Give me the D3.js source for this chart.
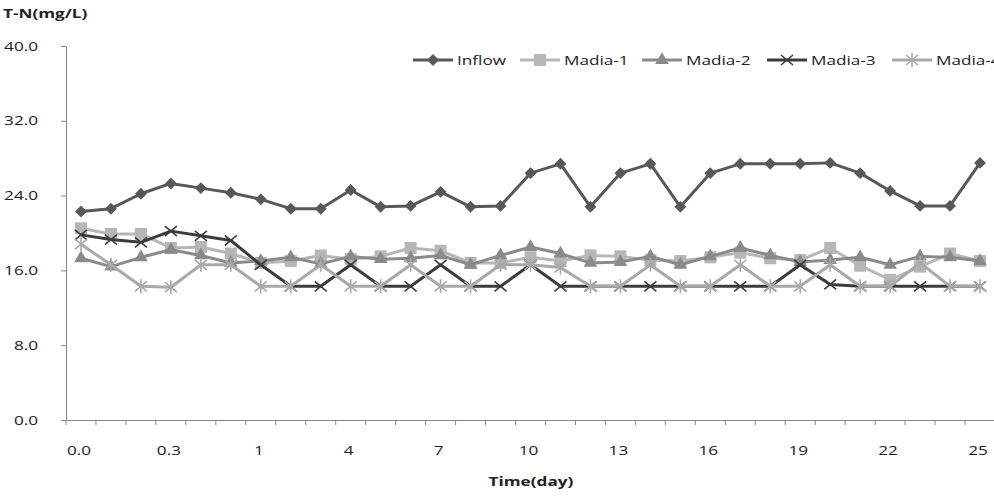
<!DOCTYPE html>
<html>
<head>
<meta charset="utf-8">
<script src="https://cdnjs.cloudflare.com/ajax/libs/d3/7.8.5/d3.min.js"></script>
<style>
  body { margin: 0; background: #fff; overflow: hidden; }
  text { font-family: "Open Sans", "DejaVu Sans", sans-serif; }
</style>
</head>
<body>
<div id="chart"></div>
<script>
// categories along the time axis (only every third one is labelled)
const days = ["0.0", "0.1", "0.2", "0.3", "0.5", "0.7", "1", "2", "3", "4", "5", "6", "7", "8", "9", "10",
              "11", "12", "13", "14", "15", "16", "17", "18", "19", "20", "21", "22", "23", "24", "25"];
const yTicks = [0, 8, 16, 24, 32, 40];

const inflow = [22.3, 22.6, 24.2, 25.3, 24.8, 24.3, 23.6, 22.6, 22.6, 24.6, 22.8, 22.9, 24.4, 22.8, 22.9, 26.4,
                27.4, 22.8, 26.4, 27.4, 22.8, 26.4, 27.4, 27.4, 27.4, 27.5, 26.4, 24.5, 22.9, 22.9, 27.5];
const madia1 = [20.5, 19.9, 19.9, 18.4, 18.5, 17.8, 16.8, 17.0, 17.6, 17.2, 17.5, 18.4, 18.1, 16.8, 16.8, 17.4,
                17.0, 17.6, 17.5, 17.1, 17.0, 17.4, 17.9, 17.3, 17.1, 18.4, 16.5, 15.0, 16.4, 17.8, 17.0];
const madia2 = [17.3, 16.4, 17.4, 18.2, 17.6, 16.8, 17.0, 17.4, 16.7, 17.5, 17.2, 17.3, 17.6, 16.6, 17.6, 18.5,
                17.8, 16.8, 16.9, 17.5, 16.6, 17.5, 18.4, 17.6, 16.9, 17.1, 17.4, 16.6, 17.5, 17.4, 17.0];
const madia3 = [19.8, 19.3, 19.0, 20.2, 19.7, 19.2, 16.6, 14.3, 14.3, 16.6, 14.3, 14.3, 16.6, 14.3, 14.3, 16.6,
                14.3, 14.3, 14.3, 14.3, 14.3, 14.3, 14.3, 14.3, 16.6, 14.5, 14.3, 14.3, 14.3, 14.3, 14.3];
const madia4 = [18.8, 16.6, 14.3, 14.2, 16.6, 16.6, 14.3, 14.3, 16.6, 14.3, 14.3, 16.6, 14.3, 14.3, 16.6, 16.6,
                16.3, 14.3, 14.3, 16.6, 14.3, 14.3, 16.6, 14.3, 14.3, 16.6, 14.3, 14.3, 16.8, 14.3, 14.3];

const series = [
    {name: "Inflow", values: inflow, color: "#585858", shape: "diamond"},
    {name: "Madia-1", values: madia1, color: "#b6b6b6", shape: "square"},
    {name: "Madia-2", values: madia2, color: "#8a8a8a", shape: "triangle"},
    {name: "Madia-3", values: madia3, color: "#3c3c3c", shape: "x"},
    {name: "Madia-4", values: madia4, color: "#a9a9a9", shape: "star"}
];

let w = 994;
let h = 498;
let margin = {top: 46, right: -1, bottom: 78, left: 66};
const stretch = 1.32; // the original text looks widened

const svg = d3.select("#chart")
    .append("svg")
    .attr("width", w)
    .attr("height", h);

let x = d3.scaleBand()
    .domain(days)
    .range([margin.left, w - margin.right])
    .padding(0);

let y = d3.scaleLinear()
    .domain([0, 40])
    .range([h - margin.bottom, margin.top]);

const axisColor = "#868686";

// y axis
const yAxis = svg.append("g")
    .attr("transform", `translate(${margin.left},0)`)
    .call(d3.axisLeft(y).tickValues(yTicks).tickFormat(d3.format(".1f")).tickSize(5).tickPadding(23));
yAxis.select(".domain").attr("stroke", axisColor);
yAxis.selectAll(".tick line").attr("stroke", axisColor);
yAxis.selectAll(".tick text").attr("font-size", "13px").attr("fill", "#222");

// x axis: ticks between categories, labels every third category
const xAxis = svg.append("g")
    .attr("transform", `translate(0,${y(0)})`)
    .call(d3.axisBottom(x).tickSize(0).tickPadding(26)
        .tickFormat((d, i) => (i % 3 === 0 ? d : "")));
xAxis.select(".domain").attr("stroke", axisColor);
xAxis.selectAll(".tick text").attr("font-size", "13px").attr("fill", "#222").attr("dx", "-2");
xAxis.selectAll(".boundary")
    .data(days)
    .enter()
    .append("line")
    .attr("x1", d => x(d))
    .attr("x2", d => x(d))
    .attr("y1", 0)
    .attr("y2", 5)
    .attr("stroke", axisColor);

// axis titles
svg.append("text")
    .attr("x", 3)
    .attr("y", 18)
    .attr("font-size", "13px")
    .attr("font-weight", "bold")
    .attr("fill", "#222")
    .text("T-N(mg/L)");

svg.append("text")
    .attr("x", 531)
    .attr("y", 486)
    .attr("text-anchor", "middle")
    .attr("font-size", "13px")
    .attr("font-weight", "bold")
    .attr("fill", "#222")
    .text("Time(day)");

// marker drawing
function marker(g, shape, color) {
    if (shape === "diamond") {
        g.append("path").attr("d", d3.symbol().type(d3.symbolDiamond2).size(90)()).attr("fill", color);
    } else if (shape === "square") {
        g.append("rect").attr("x", -6).attr("y", -6).attr("width", 12).attr("height", 12).attr("fill", color);
    } else if (shape === "triangle") {
        g.append("path").attr("d", d3.symbol().type(d3.symbolTriangle).size(80)()).attr("fill", color);
    } else if (shape === "x") {
        g.append("path").attr("d", "M-6,-5L6,5M-6,5L6,-5").attr("stroke", color).attr("stroke-width", 1.6);
    } else {
        g.append("path").attr("d", "M-6,-5L6,5M-6,5L6,-5M0,-7L0,7").attr("stroke", color).attr("stroke-width", 1.6);
    }
}

const line = d3.line()
    .x((d, i) => x(days[i]) + x.bandwidth() / 2)
    .y(d => y(d));

series.forEach(s => {
    svg.append("path")
        .datum(s.values)
        .attr("d", line)
        .attr("fill", "none")
        .attr("stroke", s.color)
        .attr("stroke-width", 3)
        .attr("stroke-linejoin", "round");
    s.values.forEach((v, i) => {
        const g = svg.append("g")
            .attr("transform", `translate(${x(days[i]) + x.bandwidth() / 2},${y(v)})`);
        marker(g, s.shape, s.color);
    });
});

// legend
const legendX = [413, 520, 642, 767, 892];
const legend = svg.append("g").attr("transform", "translate(0,60)");
series.forEach((s, i) => {
    const item = legend.append("g").attr("transform", `translate(${legendX[i]},0)`);
    item.append("line")
        .attr("x1", 0).attr("x2", 40).attr("y1", 0).attr("y2", 0)
        .attr("stroke", s.color).attr("stroke-width", 3);
    const m = item.append("g").attr("transform", "translate(20,0)");
    marker(m, s.shape, s.color);
    item.append("text")
        .attr("x", 44)
        .attr("y", 5)
        .attr("font-size", "13px")
        .attr("fill", "#222")
        .text(s.name);
});

// widen every label a bit, like the reference
svg.selectAll("text").each(function() {
    const len = this.getComputedTextLength();
    if (len > 0) {
        d3.select(this)
            .attr("textLength", len * stretch)
            .attr("lengthAdjust", "spacingAndGlyphs");
    }
});
</script>
</body>
</html>
